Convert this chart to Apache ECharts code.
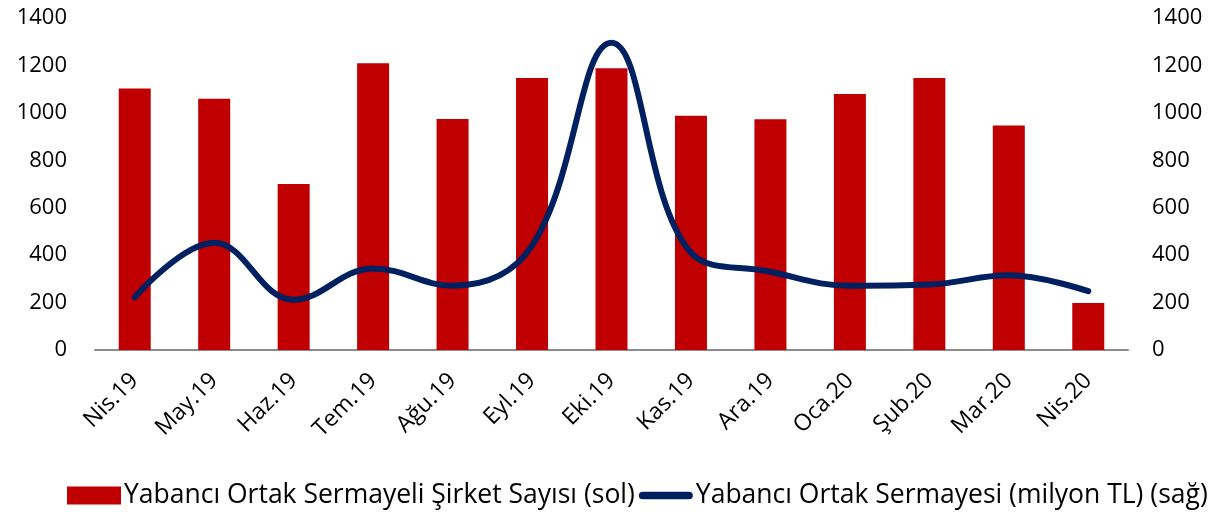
<!DOCTYPE html>
<html>
<head>
<meta charset="utf-8">
<script src="https://cdn.jsdelivr.net/npm/echarts@6/dist/echarts.min.js"></script>
<style>
  html, body { margin: 0; padding: 0; background: #fff; }
  #chart { width: 1223px; height: 514px; }
</style>
</head>
<body>
<div id="chart"></div>
<script>
  // aylar
  const months = ['Nis.19', 'May.19', 'Haz.19', 'Tem.19', 'Ağu.19', 'Eyl.19', 'Eki.19',
    'Kas.19', 'Ara.19', 'Oca.20', 'Şub.20', 'Mar.20', 'Nis.20'];
  // sol eksen - şirket sayısı
  const companyCount = [1103, 1060, 700, 1209, 974, 1147, 1188, 988, 973, 1080, 1147, 947, 198];
  // sağ eksen - sermaye (milyon TL)
  const capital = [222, 452, 212, 344, 271, 440, 1296, 410, 330, 271, 276, 315, 248];
  const axisTicks = [0, 200, 400, 600, 800, 1000, 1200, 1400];

  const barName = 'Yabancı Ortak Sermayeli Şirket Sayısı (sol)';
  const lineName = 'Yabancı Ortak Sermayesi (milyon TL) (sağ)';
  const font = '"Open Sans", sans-serif';

  let myChart = echarts.init(document.getElementById('chart'));
  myChart.setOption({
    animation: false,
    textStyle: {fontFamily: font},
    grid: {left: 95, right: 95, top: 18, bottom: 164},
    legend: {
      top: 477,
      left: 62,
      itemGap: 4,
      itemWidth: 54,
      itemHeight: 18,
      textStyle: {fontSize: 26.5, color: '#000', fontFamily: font, padding: [0, 0, 0, -2]},
      data: [
        {name: barName, icon: 'rect'},
        {name: lineName, icon: 'path://M4,6 H52 A4,4 0 0 1 52,14 H4 A4,4 0 0 1 4,6 Z'}
      ]
    },
    xAxis: {
      type: 'category',
      data: months,
      axisLine: {lineStyle: {color: '#8c8c8c', width: 2}},
      axisTick: {show: false},
      axisLabel: {rotate: 45, fontSize: 23, color: '#000', margin: 27, interval: 0}
    },
    yAxis: [
      {
        type: 'value', min: axisTicks[0], max: axisTicks[axisTicks.length - 1], interval: 200,
        splitLine: {show: false},
        axisLine: {show: false}, axisTick: {show: false},
        axisLabel: {fontSize: 22, color: '#000', margin: 28, formatter: v => String(v)}
      },
      {
        type: 'value', min: axisTicks[0], max: axisTicks[axisTicks.length - 1], interval: 200,
        splitLine: {show: false},
        axisLine: {show: false}, axisTick: {show: false},
        axisLabel: {fontSize: 22, color: '#000', margin: 24, formatter: v => String(v)}
      }
    ],
    series: [
      {
        name: barName,
        type: 'bar',
        data: companyCount,
        barWidth: 32,
        itemStyle: {color: '#c00000'}
      },
      {
        name: lineName,
        type: 'line',
        yAxisIndex: 1,
        data: capital,
        smooth: 0.4,
        symbol: 'none',
        lineStyle: {color: '#002060', width: 6, cap: 'round'},
        itemStyle: {color: '#002060'}
      }
    ]
  });
</script>
</body>
</html>
